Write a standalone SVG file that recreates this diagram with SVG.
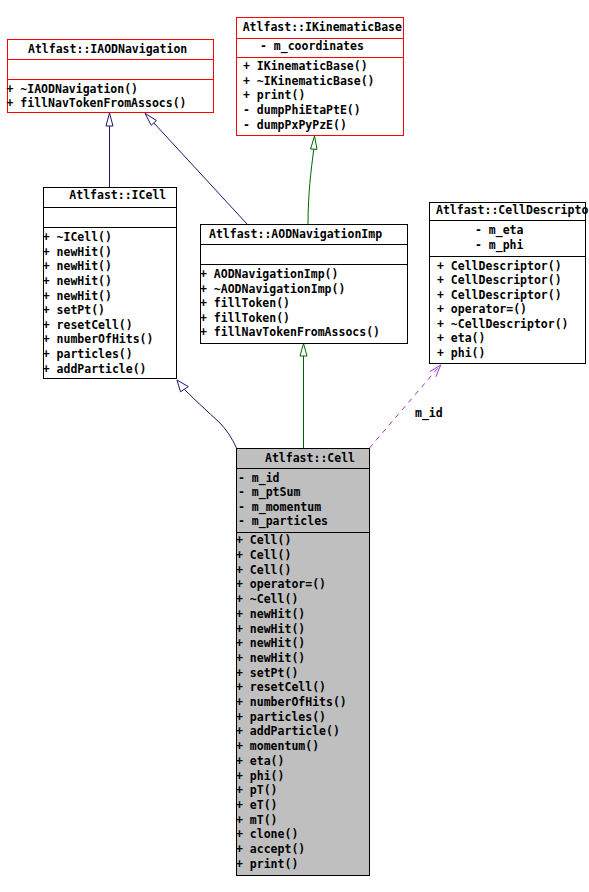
<svg xmlns="http://www.w3.org/2000/svg" width="589" height="892" viewBox="0 0 589 892">
<style>
text{font-family:"DejaVu Sans Mono","Liberation Mono",monospace;font-weight:bold;font-size:11.5px;fill:#000}
.box{fill:#fff;stroke:#000;stroke-width:1}
.red{fill:#fff;stroke:#ff0000;stroke-width:1}
.grey{fill:#bfbfbf;stroke:#000;stroke-width:1}
.div{stroke:#000;stroke-width:1}
.divr{stroke:#ff0000;stroke-width:1}
.navy{fill:none;stroke:#191970;stroke-width:1}
.green{fill:none;stroke:#006400;stroke-width:1}
.purple{fill:none;stroke:#9a32cd;stroke-width:1;stroke-dasharray:5,5}
.ahn{fill:#fff;stroke:#191970;stroke-width:1}
.ahg{fill:#fff;stroke:#006400;stroke-width:1}
.ahp{fill:none;stroke:#9a32cd;stroke-width:1}
</style>
<rect width="589" height="892" fill="#fff"/>

<g id="connectors">
  <line class="navy" x1="109.5" y1="187" x2="109.5" y2="126"/>
  <polygon class="ahn" points="109.5,113 113,126 106,126"/>
  <line class="navy" x1="247" y1="224" x2="153.8" y2="122.9"/>
  <polygon class="ahn" points="145,113.3 151.2,125.3 156.4,120.5"/>
  <path class="green" d="M308,224 C308,195 311,170 313.8,149"/>
  <polygon class="ahg" points="314.5,136 317,149.3 310.6,149"/>
  <line class="green" x1="303.5" y1="448" x2="303.5" y2="356"/>
  <polygon class="ahg" points="303.5,343.5 307,356 300,356"/>
  <path class="navy" d="M236.5,448 C232,438 226,429 219,422 C208,412 196,401 184.5,389.5"/>
  <polygon class="ahn" points="177,380 180.5,391.8 188.3,386.6"/>
  <line class="purple" x1="369.5" y1="448" x2="440.5" y2="365"/>
  <polyline class="ahp" points="430,371.6 440.7,365 435.9,376.8"/>
  <text x="415" y="416.7">m_id</text>
</g>

<g id="IAODNavigation">
  <rect class="red" x="7.5" y="39.5" width="206" height="73"/>
  <line class="divr" x1="7.5" y1="59.5" x2="213.5" y2="59.5"/>
  <line class="divr" x1="7.5" y1="79.5" x2="213.5" y2="79.5"/>
  <text x="28" y="52.7">Atlfast::IAODNavigation</text>
  <text x="6.5" y="92.7">+ ~IAODNavigation()</text>
  <text x="6.5" y="106.5">+ fillNavTokenFromAssocs()</text>
</g>

<g id="IKinematicBase">
  <rect class="red" x="236.5" y="17.5" width="167" height="118"/>
  <line class="divr" x1="236.5" y1="38.5" x2="403.5" y2="38.5"/>
  <line class="divr" x1="236.5" y1="57.5" x2="403.5" y2="57.5"/>
  <text x="242.7" y="30.7">Atlfast::IKinematicBase</text>
  <text x="260" y="50">- m_coordinates</text>
  <text x="243" y="70">+ IKinematicBase()</text>
  <text x="243" y="84.7">+ ~IKinematicBase()</text>
  <text x="243" y="99.4">+ print()</text>
  <text x="243" y="114.1">- dumpPhiEtaPtE()</text>
  <text x="243" y="128.8">- dumpPxPyPzE()</text>
</g>

<g id="ICell">
  <rect class="box" x="43.5" y="187.5" width="133" height="191"/>
  <line class="div" x1="43.5" y1="207.5" x2="176.5" y2="207.5"/>
  <line class="div" x1="43.5" y1="227.5" x2="176.5" y2="227.5"/>
  <text x="69.3" y="199.3">Atlfast::ICell</text>
  <text x="42.7" y="241">+ ~ICell()</text>
  <text x="42.7" y="255.6">+ newHit()</text>
  <text x="42.7" y="270.3">+ newHit()</text>
  <text x="42.7" y="284.9">+ newHit()</text>
  <text x="42.7" y="299.5">+ newHit()</text>
  <text x="42.7" y="314.2">+ setPt()</text>
  <text x="42.7" y="328.8">+ resetCell()</text>
  <text x="42.7" y="343.4">+ numberOfHits()</text>
  <text x="42.7" y="358.1">+ particles()</text>
  <text x="42.7" y="372.7">+ addParticle()</text>
</g>

<g id="AODNavigationImp">
  <rect class="box" x="200.5" y="224.5" width="207" height="119"/>
  <line class="div" x1="200.5" y1="244.5" x2="407.5" y2="244.5"/>
  <line class="div" x1="200.5" y1="264.5" x2="407.5" y2="264.5"/>
  <text x="209" y="238.3">Atlfast::AODNavigationImp</text>
  <text x="200" y="278.3">+ AODNavigationImp()</text>
  <text x="200" y="292.8">+ ~AODNavigationImp()</text>
  <text x="200" y="307.3">+ fillToken()</text>
  <text x="200" y="321.8">+ fillToken()</text>
  <text x="200" y="336.3">+ fillNavTokenFromAssocs()</text>
</g>

<g id="CellDescriptor">
  <rect class="box" x="429.5" y="202.5" width="156" height="161"/>
  <line class="div" x1="429.5" y1="220.5" x2="585.5" y2="220.5"/>
  <line class="div" x1="429.5" y1="256.5" x2="585.5" y2="256.5"/>
  <text x="436" y="214.3">Atlfast::CellDescripto</text>
  <text x="475" y="234.3">- m_eta</text>
  <text x="475" y="249">- m_phi</text>
  <text x="437" y="269.5">+ CellDescriptor()</text>
  <text x="437" y="284">+ CellDescriptor()</text>
  <text x="437" y="298.5">+ CellDescriptor()</text>
  <text x="437" y="313">+ operator=()</text>
  <text x="437" y="327.5">+ ~CellDescriptor()</text>
  <text x="437" y="342">+ eta()</text>
  <text x="437" y="356.5">+ phi()</text>
</g>

<g id="Cell">
  <rect class="grey" x="236.5" y="448.5" width="133" height="427"/>
  <line class="div" x1="236.5" y1="468.5" x2="369.5" y2="468.5"/>
  <line class="div" x1="236.5" y1="532.5" x2="369.5" y2="532.5"/>
  <text x="265" y="461.7">Atlfast::Cell</text>
  <text x="238" y="481.7">- m_id</text>
  <text x="238" y="496">- m_ptSum</text>
  <text x="238" y="510.5">- m_momentum</text>
  <text x="238" y="525">- m_particles</text>
  <text x="236" y="544.3">+ Cell()</text>
  <text x="236" y="559">+ Cell()</text>
  <text x="236" y="573.7">+ Cell()</text>
  <text x="236" y="588.4">+ operator=()</text>
  <text x="236" y="603.1">+ ~Cell()</text>
  <text x="236" y="617.8">+ newHit()</text>
  <text x="236" y="632.5">+ newHit()</text>
  <text x="236" y="647.2">+ newHit()</text>
  <text x="236" y="661.9">+ newHit()</text>
  <text x="236" y="676.6">+ setPt()</text>
  <text x="236" y="691.3">+ resetCell()</text>
  <text x="236" y="706">+ numberOfHits()</text>
  <text x="236" y="720.7">+ particles()</text>
  <text x="236" y="735.4">+ addParticle()</text>
  <text x="236" y="750.1">+ momentum()</text>
  <text x="236" y="764.8">+ eta()</text>
  <text x="236" y="779.5">+ phi()</text>
  <text x="236" y="794.2">+ pT()</text>
  <text x="236" y="808.9">+ eT()</text>
  <text x="236" y="823.6">+ mT()</text>
  <text x="236" y="838.3">+ clone()</text>
  <text x="236" y="853">+ accept()</text>
  <text x="236" y="867.7">+ print()</text>
</g>
</svg>
